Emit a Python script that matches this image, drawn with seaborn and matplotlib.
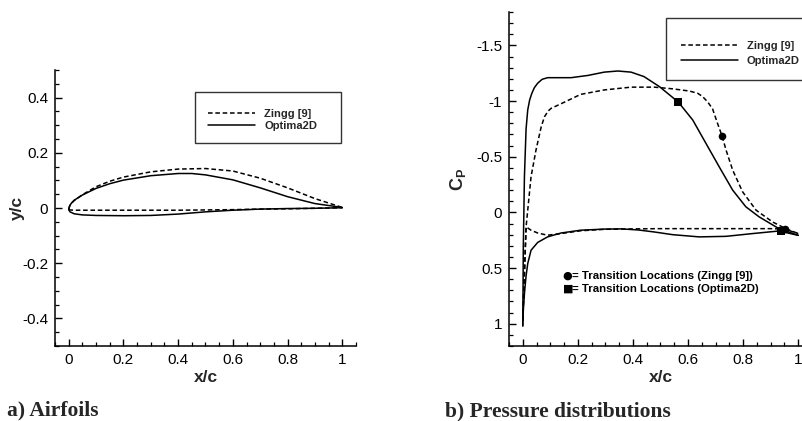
import numpy as np
import pandas as pd
import matplotlib
matplotlib.use("Agg")
import matplotlib.pyplot as plt
from matplotlib.patches import Rectangle
from matplotlib.ticker import MultipleLocator, FormatStrFormatter
import seaborn as sns

# ---------------- data ----------------
# Airfoil geometry (x/c, y/c)
zingg_up_x = [0.0, 0.005, 0.02, 0.05, 0.1, 0.15, 0.2, 0.3, 0.4, 0.5, 0.6, 0.7, 0.8, 0.9, 1.0]
zingg_up_y = [-0.004, 0.011, 0.027, 0.048, 0.077, 0.097, 0.112, 0.131, 0.141, 0.143, 0.134, 0.108, 0.073, 0.034, 0.002]
zingg_lo_x = [0.0, 0.005, 0.02, 0.05, 0.1, 0.2, 0.3, 0.4, 0.5, 0.6, 0.7, 0.8, 0.9, 1.0]
zingg_lo_y = [-0.004, -0.007, -0.008, -0.008, -0.008, -0.008, -0.008, -0.008, -0.007, -0.006, -0.004, -0.003, -0.001, 0.001]

opt_up_x = [0.0, 0.003, 0.01, 0.02, 0.05, 0.1, 0.15, 0.2, 0.3, 0.4, 0.45, 0.5, 0.6, 0.7, 0.8, 0.9, 1.0]
opt_up_y = [-0.006, 0.006, 0.018, 0.028, 0.047, 0.071, 0.088, 0.101, 0.117, 0.125, 0.125, 0.120, 0.102, 0.073, 0.041, 0.016, 0.002]
opt_lo_x = [0.0, 0.005, 0.02, 0.05, 0.1, 0.2, 0.3, 0.4, 0.5, 0.6, 0.7, 0.8, 0.9, 1.0]
opt_lo_y = [-0.006, -0.014, -0.021, -0.025, -0.027, -0.028, -0.027, -0.022, -0.014, -0.008, -0.004, -0.002, -0.001, 0.001]

# Pressure distributions (x/c, Cp)
zingg_cp_up_x = [0.0, 0.006, 0.012, 0.03, 0.048, 0.067, 0.079, 0.092, 0.103, 0.125, 0.151, 0.21, 0.296, 0.393,
                 0.478, 0.544, 0.605, 0.635, 0.653, 0.672, 0.689, 0.707, 0.723, 0.738, 0.762, 0.798, 0.847,
                 0.907, 0.955, 1.0]
zingg_cp_up = [0.97, 0.55, 0.13, -0.32, -0.56, -0.77, -0.86, -0.91, -0.935, -0.96, -0.99, -1.06, -1.10, -1.125,
               -1.125, -1.11, -1.09, -1.07, -1.04, -0.99, -0.93, -0.80, -0.69, -0.56, -0.38, -0.185, -0.02,
               0.086, 0.146, 0.19]
zingg_cp_lo_x = [0.0, 0.006, 0.012, 0.03, 0.054, 0.09, 0.139, 0.21, 0.296, 0.4, 0.5, 0.6, 0.7, 0.8, 0.9, 0.95, 1.0]
zingg_cp_lo = [0.97, 0.55, 0.13, 0.16, 0.185, 0.205, 0.19, 0.165, 0.152, 0.148, 0.146, 0.146, 0.146, 0.146, 0.146, 0.15, 0.19]

opt_cp_up_x = [0.0, 0.002, 0.006, 0.012, 0.018, 0.025, 0.033, 0.042, 0.054, 0.07, 0.09, 0.127, 0.175, 0.236,
               0.296, 0.345, 0.393, 0.44, 0.496, 0.565, 0.617, 0.665, 0.713, 0.762, 0.81, 0.858, 0.93, 1.0]
opt_cp_up = [1.02, 0.3, -0.32, -0.75, -0.92, -1.01, -1.07, -1.12, -1.16, -1.195, -1.21, -1.21, -1.21, -1.23,
             -1.26, -1.27, -1.26, -1.22, -1.13, -0.99, -0.83, -0.62, -0.41, -0.20, -0.05, 0.04, 0.146, 0.206]
opt_cp_lo_x = [0.0, 0.002, 0.006, 0.012, 0.018, 0.03, 0.054, 0.09, 0.139, 0.21, 0.296, 0.357, 0.42, 0.478,
               0.544, 0.641, 0.738, 0.835, 0.93, 1.0]
opt_cp_lo = [1.02, 0.88, 0.73, 0.57, 0.46, 0.34, 0.27, 0.22, 0.185, 0.16, 0.15, 0.148, 0.158, 0.176,
             0.20, 0.22, 0.215, 0.19, 0.167, 0.206]

trans_zingg_x = [0.723, 0.952]
trans_zingg_cp = [-0.69, 0.145]
trans_opt_x = [0.565, 0.937]
trans_opt_cp = [-0.99, 0.17]

legend_labels = ["Zingg [9]", "Optima2D"]
note_symbols = ["\u25cf", "\u25a0"]
note_texts = ["= Transition Locations (Zingg [9])", "= Transition Locations (Optima2D)"]
left_xticks = [0, 0.2, 0.4, 0.6, 0.8, 1]
captions = ["a) Airfoils", "b) Pressure distributions"]

# ---------------- styling ----------------
sns.set_theme(style="ticks")
plt.rcParams["font.family"] = ["Liberation Sans", "DejaVu Sans"]
plt.rcParams["axes.unicode_minus"] = False
plt.rcParams["mathtext.fontset"] = "custom"
plt.rcParams["mathtext.bf"] = "Liberation Sans:bold"
plt.rcParams["mathtext.rm"] = "Liberation Sans"

W, H = 803, 421
fig = plt.figure(figsize=(W / 100, H / 100), dpi=100)
fig.patch.set_facecolor("white")

DASH = (0, (3.0, 1.8))
LW = 1.1
TICK_FS = 11
LEG_FS = 8.0


def px_axes(x0, x1, y0, y1):
    return fig.add_axes([x0 / W, 1 - y1 / H, (x1 - x0) / W, (y1 - y0) / H])


def style_axes(ax, xmaj, xmin, ymaj, ymin, fs):
    for s in ["top", "right"]:
        ax.spines[s].set_visible(False)
    for s in ["left", "bottom"]:
        ax.spines[s].set_linewidth(1.1)
        ax.spines[s].set_color("black")
    ax.xaxis.set_major_locator(MultipleLocator(xmaj))
    ax.xaxis.set_minor_locator(MultipleLocator(xmin))
    ax.yaxis.set_major_locator(MultipleLocator(ymaj))
    ax.yaxis.set_minor_locator(MultipleLocator(ymin))
    ax.xaxis.set_major_formatter(FormatStrFormatter("%g"))
    ax.yaxis.set_major_formatter(FormatStrFormatter("%g"))
    ax.tick_params(which="major", direction="in", length=5, width=1.0, color="black",
                   labelsize=fs, pad=5, labelcolor="black")
    ax.tick_params(which="minor", direction="in", length=2.8, width=0.9, color="black")
    ax.set_facecolor("white")
    ax.grid(False)


def line(ax, x, y, dashed):
    df = pd.DataFrame({"x": x, "y": y})
    sns.lineplot(data=df, x="x", y="y", ax=ax, sort=False, estimator=None, color="black",
                 linewidth=LW, linestyle=DASH if dashed else "-")


def legend_box(ax, rect, anchor, hlen, hpad, lspace):
    ax.add_patch(Rectangle(rect[:2], rect[2], rect[3], transform=ax.transAxes,
                           facecolor="white", edgecolor="#333333", linewidth=1.0,
                           zorder=3, clip_on=False))
    handles = [plt.Line2D([], [], color="black", lw=LW, linestyle=DASH),
               plt.Line2D([], [], color="black", lw=LW, linestyle="-")]
    leg = ax.legend(handles, legend_labels, loc="center left", bbox_to_anchor=anchor,
                    frameon=False, borderpad=0, borderaxespad=0, handlelength=hlen,
                    handletextpad=hpad, labelspacing=lspace,
                    prop={"weight": "bold", "size": LEG_FS})
    leg.set_zorder(4)


# ---------------- panel a: airfoils ----------------
ax1 = px_axes(55, 356, 70, 346)
line(ax1, zingg_up_x, zingg_up_y, True)
line(ax1, zingg_lo_x, zingg_lo_y, True)
line(ax1, opt_up_x, opt_up_y, False)
line(ax1, opt_lo_x, opt_lo_y, False)
ax1.set_xlim(-0.05, 1.05)
ax1.set_ylim(-0.5, 0.5)
style_axes(ax1, 0.2, 0.05, 0.2, 0.05, TICK_FS)
ax1.set_xticks(left_xticks)
ax1.set_xlabel("x/c", fontsize=12.5, fontweight="bold")
ax1.set_ylabel("y/c", fontsize=12.5, fontweight="bold")
ax1.xaxis.set_label_coords(0.5, -0.088)
ax1.yaxis.set_label_coords(-0.1, 0.5)
legend_box(ax1, (0.465, 0.734, 0.485, 0.185), (0.508, 0.819), 4.2, 0.85, 0.2)

# ---------------- panel b: pressure distributions ----------------
ax2 = px_axes(509, 509 + 303, 12, 346)
line(ax2, zingg_cp_up_x, zingg_cp_up, True)
line(ax2, zingg_cp_lo_x, zingg_cp_lo, True)
line(ax2, opt_cp_up_x, opt_cp_up, False)
line(ax2, opt_cp_lo_x, opt_cp_lo, False)
sns.scatterplot(x=trans_zingg_x, y=trans_zingg_cp, ax=ax2, marker="o", s=30, color="black",
                edgecolor="black", linewidth=0, zorder=5)
sns.scatterplot(x=trans_opt_x, y=trans_opt_cp, ax=ax2, marker="s", s=32, color="black",
                edgecolor="black", linewidth=0, zorder=5)
ax2.set_xlim(-0.05, 1.05)
ax2.set_ylim(1.2, -1.8)
style_axes(ax2, 0.2, 0.05, 0.5, 0.1, TICK_FS)
ax2.set_xticks(left_xticks)
ax2.set_xlabel("x/c", fontsize=12.5, fontweight="bold")
ax2.set_ylabel(r"$\mathbf{C_P}$", fontsize=13)
ax2.xaxis.set_label_coords(0.5, -0.073)
ax2.yaxis.set_label_coords(-0.135, 0.5)
legend_box(ax2, (0.518, 0.796, 0.6, 0.185), (0.568, 0.876), 5.1, 0.8, 0.42)

note_y = [0.2096, 0.1716]
for sym, txt, yy in zip(note_symbols, note_texts, note_y):
    ax2.text(0.177, yy, sym, transform=ax2.transAxes, fontsize=8.0, va="center", ha="left",
             family=["DejaVu Sans"], color="black")
    ax2.text(0.209, yy, txt, transform=ax2.transAxes, fontsize=8.2, fontweight="bold",
             va="center", ha="left", color="black")

# ---------------- captions ----------------
fig.text(7 / W, 1 - 410 / H, captions[0], fontsize=15.5, fontweight="bold",
         family=["Liberation Serif", "DejaVu Serif"], va="center", ha="left")
fig.text(445 / W, 1 - 411 / H, captions[1], fontsize=15.5, fontweight="bold",
         family=["Liberation Serif", "DejaVu Serif"], va="center", ha="left")

fig.savefig("out.png", dpi=100)
